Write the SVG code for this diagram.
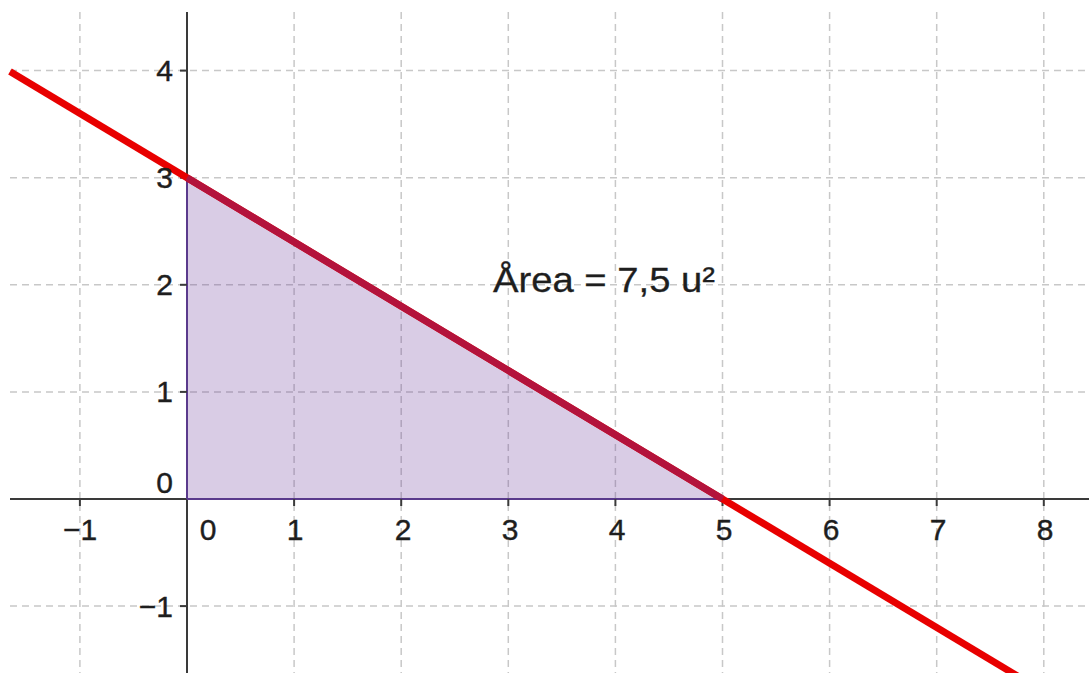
<svg xmlns="http://www.w3.org/2000/svg" width="1089" height="673" viewBox="0 0 1089 673">
<style>
.grid{stroke:#c8c8c8;stroke-width:1.5;stroke-dasharray:7 5;fill:none}
.axis{stroke:#3a3a3a;stroke-width:2;fill:none}
.tick{stroke:#3a3a3a;stroke-width:2}
.lbl{font-family:"Liberation Sans",Arial,sans-serif;font-size:30px;fill:#1e1e1e;stroke:#1e1e1e;stroke-width:0.4}
.xl{text-anchor:middle}
.yl{text-anchor:end}
</style>
<rect x="0" y="0" width="1089" height="673" fill="#ffffff"/>
<g id="grid">
<line class="grid" x1="79.9" y1="12" x2="79.9" y2="673"/>
<line class="grid" x1="294.1" y1="12" x2="294.1" y2="673"/>
<line class="grid" x1="401.2" y1="12" x2="401.2" y2="673"/>
<line class="grid" x1="508.3" y1="12" x2="508.3" y2="673"/>
<line class="grid" x1="615.4" y1="12" x2="615.4" y2="673"/>
<line class="grid" x1="722.5" y1="12" x2="722.5" y2="673"/>
<line class="grid" x1="829.6" y1="12" x2="829.6" y2="673"/>
<line class="grid" x1="936.7" y1="12" x2="936.7" y2="673"/>
<line class="grid" x1="1043.8" y1="12" x2="1043.8" y2="673"/>
<line class="grid" x1="10" y1="70.6" x2="1089" y2="70.6"/>
<line class="grid" x1="10" y1="177.7" x2="1089" y2="177.7"/>
<line class="grid" x1="10" y1="284.8" x2="1089" y2="284.8"/>
<line class="grid" x1="10" y1="391.9" x2="1089" y2="391.9"/>
<line class="grid" x1="10" y1="606.1" x2="1089" y2="606.1"/>
</g>
<g id="triangle">
<polygon points="187,177.7 722.5,499 187,499" fill="#663399" fill-opacity="0.25" stroke="none"/>
</g>
<g id="axes">
<line class="axis" x1="10" y1="499" x2="1089" y2="499"/>
<line class="axis" x1="187" y1="12" x2="187" y2="673"/>
<line x1="187" y1="177.7" x2="187" y2="499" stroke="#5a3a8c" stroke-width="2"/>
<line x1="187" y1="499" x2="722.5" y2="499" stroke="#5a3a8c" stroke-width="2"/>
<g id="ticks">
<line class="tick" x1="79.9" y1="499" x2="79.9" y2="506"/>
<line class="tick" x1="294.1" y1="499" x2="294.1" y2="506"/>
<line class="tick" x1="401.2" y1="499" x2="401.2" y2="506"/>
<line class="tick" x1="508.3" y1="499" x2="508.3" y2="506"/>
<line class="tick" x1="615.4" y1="499" x2="615.4" y2="506"/>
<line class="tick" x1="722.5" y1="499" x2="722.5" y2="506"/>
<line class="tick" x1="829.6" y1="499" x2="829.6" y2="506"/>
<line class="tick" x1="936.7" y1="499" x2="936.7" y2="506"/>
<line class="tick" x1="1043.8" y1="499" x2="1043.8" y2="506"/>
<line class="tick" x1="180" y1="70.6" x2="187" y2="70.6"/>
<line class="tick" x1="180" y1="177.7" x2="187" y2="177.7"/>
<line class="tick" x1="180" y1="284.8" x2="187" y2="284.8"/>
<line class="tick" x1="180" y1="391.9" x2="187" y2="391.9"/>
<line class="tick" x1="180" y1="606.1" x2="187" y2="606.1"/>
</g>
</g>
<g id="line">
<line x1="10" y1="71.5" x2="1030" y2="683.5" stroke="#e80000" stroke-width="7"/>
<line x1="187" y1="177.7" x2="722.5" y2="499" stroke="#b3133c" stroke-width="7"/>
</g>
<g id="xlabels" class="lbl xl">
<text x="80" y="540">−1</text>
<text x="208" y="540">0</text>
<text x="295" y="540">1</text>
<text x="403" y="540">2</text>
<text x="510" y="540">3</text>
<text x="617" y="540">4</text>
<text x="724" y="540">5</text>
<text x="831" y="540">6</text>
<text x="938" y="540">7</text>
<text x="1045" y="540">8</text>
</g>
<g id="ylabels" class="lbl yl">
<text x="173" y="81">4</text>
<text x="173" y="188">3</text>
<text x="173" y="295">2</text>
<text x="173" y="402">1</text>
<text x="173" y="493">0</text>
<text x="173" y="617">−1</text>
</g>
<g id="area-label">
<text class="lbl" x="493" y="292" textLength="222" lengthAdjust="spacingAndGlyphs" style="font-size:35px;stroke-width:0.3">Årea = 7,5 u²</text>
</g>
</svg>
